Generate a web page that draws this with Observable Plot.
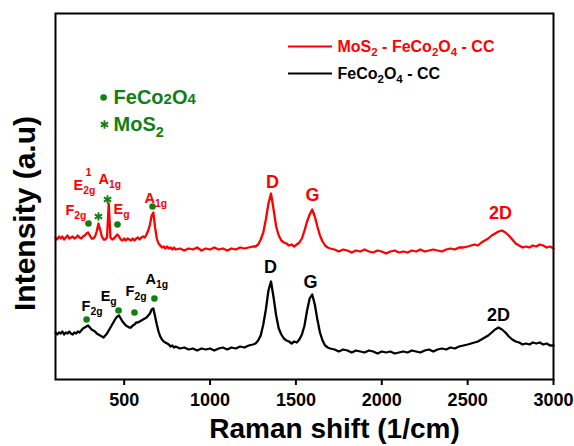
<!DOCTYPE html>
<html><head><meta charset="utf-8">
<script src="https://cdn.jsdelivr.net/npm/d3@7"></script>
<script src="https://cdn.jsdelivr.net/npm/@observablehq/plot@0.6"></script>
<style>body{margin:0;background:#fff}</style>
</head><body><div id="chart"></div>
<script>
// Raman shift (1/cm)
const shift = [
100,110,120,130,140,150,160,170,180,190,
200,210,220,230,240,250,260,270,280,290,
300,310,320,330,340,350,360,370,380,390,
400,410,420,430,440,450,460,470,480,490,
500,510,520,530,540,550,560,570,580,590,
600,610,620,630,640,650,660,670,680,690,
700,710,720,730,740,750,760,770,780,790,
800,
825,850,875,900,925,950,975,1000,1025,1050,1075,1100,1125,1150,1175,1200,1225,1250,
1265,1280,1295,1310,1325,1340,1355,1370,1385,1400,1415,1430,1445,1460,1475,1490,1505,1520,1535,1550,1565,1580,1595,1610,1625,1640,1655,1670,1685,1700,
1725,1750,1775,1800,1825,1850,1875,1900,1925,1950,1975,2000,2025,2050,2075,2100,2125,2150,2175,2200,2225,2250,2275,2300,2325,2350,2375,2400,2425,2450,2475,2500,
2520,2540,2560,2580,2600,2620,2640,2660,2680,2700,2720,2740,2760,2780,2800,2820,2840,2860,
2880,2900,2920,2940,2960,2980,3000];

// MoS2 - FeCo2O4 - CC (offset, a.u.)
const mosFeco = [
142,140,143,141,143,140,142,144,141,142,
143,141,142,144,142,141,143,144,146,147,
144,141,141,143,148,156,150,143,140,140,
142,176,142,140,141,143,145,143,140,139,
141,139,141,140,139,141,139,141,142,140,
142,143,142,145,149,155,164,167,152,141,
136,134,132,133,131,133,131,132,130,132,
130,
131,129,131,130,132,129,131,130,132,130,131,129,131,130,132,131,132,133,
133,135,140,147,160,176,186,170,153,144,139,137,136,134,135,133,135,137,141,149,158,165,170,163,153,144,138,134,132,131,
130,128,130,129,127,129,128,130,128,127,129,128,126,128,129,127,128,127,129,128,130,128,129,130,129,128,130,131,130,132,132,133,
134,135,134,137,139,141,144,146,148,149,147,144,140,136,134,132,133,132,
134,133,135,134,132,133,131];

// FeCo2O4 - CC (a.u.)
const feco = [
47,45,47,46,48,45,47,46,48,46,
45,47,46,48,47,49,51,52,53,54,
52,50,49,48,46,45,44,43,42,44,
46,49,52,55,58,61,63,64,61,58,
56,54,53,52,52,54,55,57,57,58,
59,60,61,62,64,66,70,71,63,55,
48,43,40,38,37,36,35,33,34,32,
33,
31,32,30,31,29,31,30,31,29,31,32,30,32,31,33,32,34,35,
36,39,44,55,70,89,98,82,64,51,45,41,39,38,36,38,37,40,45,54,69,81,85,75,60,47,39,34,32,31,
30,28,30,29,27,29,28,27,29,28,26,28,27,28,26,27,28,27,29,28,27,29,30,28,30,31,30,32,31,33,34,35,
36,37,38,40,42,44,47,50,52,50,47,43,40,38,37,35,36,35,
37,36,37,35,36,34,34];

const xTicks = [500,1000,1500,2000,2500,3000];

// Mode labels (baseline-left), MoS2-FeCo2O4 curve
const redModeText = ["F_{2g}", "E_{2g}", "A_{1g}", "E_{g}", "A_{1g}"];
const redModeX = [158, 205, 350, 438, 618];
const redModeY = [165, 190, 196, 166, 177];
const redSupText = ["1"];
const redSupX = [275];
const redSupY = [204];
// Mode labels, FeCo2O4 curve
const blackModeText = ["F_{2g}", "E_{g}", "F_{2g}", "A_{1g}"];
const blackModeX = [252, 363, 508, 624];
const blackModeY = [69, 79, 84, 96];
// Peak labels (centered)
const peakText = ["D", "G", "2D"];
const redPeakX = [1364, 1597, 2691];
const redPeakY = [192, 179, 161];
const blackPeakX = [1352, 1585, 2680];
const blackPeakY = [107, 92, 59];
// Phase markers
const redDotX = [292, 461, 665];
const redDotY = [156, 155, 173];
const redStarX = [350, 403];
const redStarY = [163, 180];
const blackDotX = [281, 467, 560, 676];
const blackDotY = [60, 69, 67, 81];
// Series legend
const legendLabels = ["MoS_{2} - FeCo_{2}O_{4} - CC", "FeCo_{2}O_{4} - CC"];
const legendColors = ["#ff0000", "#000000"];
const legendY = [333, 306];
const legendSwatchX = [1457, 1713];
const legendTextX = 1742;
// Phase legend
const phaseLabels = ["FeCo~{2}O~{4}", "MoS_{2}"];
const phaseSymbols = ["dot", "asterisk"];
const phaseY = [282, 255];
const phaseMarkX = [380, 385];
const phaseTextX = 438;

const GREEN = "#127f12";
const FONT = "'Liberation Sans', Arial, sans-serif";

const table = shift.map((s, i) => ({shift: s, a: mosFeco[i], b: feco[i]}));
const zip = (xs, ys, ts) => xs.map((x, i) => ({x, y: ys[i], t: ts ? ts[i] : null}));

const marks = [
  Plot.line(table, {x: "shift", y: "b", stroke: "#000", strokeWidth: 2.3}),
  Plot.line(table, {x: "shift", y: "a", stroke: "#ff0000", strokeWidth: 2.3}),
  Plot.frame({stroke: "#000", strokeWidth: 2}),
  Plot.axisX({ticks: xTicks, tickFormat: d => String(d), tickSize: 6, tickPadding: 8, strokeWidth: 2, label: null}),
  Plot.text(["Raman shift (1/cm)"], {frameAnchor: "bottom", textAnchor: "middle", lineAnchor: "bottom", dx: 30, dy: 58, fontSize: 28, fontWeight: "bold", fill: "#000"}),
  Plot.text(["Intensity (a.u)"], {frameAnchor: "left", textAnchor: "middle", rotate: -90, dx: -30, dy: 17, fontSize: 30, fontWeight: "bold", fill: "#000"}),
  Plot.text(zip(redModeX, redModeY, redModeText), {x: "x", y: "y", text: "t", fill: "#ff0000", fontSize: 14.5, fontWeight: "bold", textAnchor: "start", lineAnchor: "bottom"}),
  Plot.text(zip(redSupX, redSupY, redSupText), {x: "x", y: "y", text: "t", fill: "#ff0000", fontSize: 11, fontWeight: "bold", textAnchor: "start", lineAnchor: "bottom"}),
  Plot.text(zip(blackModeX, blackModeY, blackModeText), {x: "x", y: "y", text: "t", fill: "#000", fontSize: 14.5, fontWeight: "bold", textAnchor: "start", lineAnchor: "bottom"}),
  Plot.text(zip(redPeakX, redPeakY, peakText), {x: "x", y: "y", text: "t", fill: "#ff0000", fontSize: 18, fontWeight: "bold", lineAnchor: "bottom"}),
  Plot.text(zip(blackPeakX, blackPeakY, peakText), {x: "x", y: "y", text: "t", fill: "#000", fontSize: 18, fontWeight: "bold", lineAnchor: "bottom"}),
  Plot.dot(zip(redDotX, redDotY), {x: "x", y: "y", r: 3.3, fill: GREEN}),
  Plot.dot(zip(blackDotX, blackDotY), {x: "x", y: "y", r: 3.3, fill: GREEN}),
  Plot.dot(zip(redStarX, redStarY), {x: "x", y: "y", r: 4, symbol: "asterisk", stroke: GREEN, strokeWidth: 1.8}),
];

legendLabels.forEach((lab, i) => {
  marks.push(Plot.ruleY([{y: legendY[i], x1: legendSwatchX[0], x2: legendSwatchX[1]}], {y: "y", x1: "x1", x2: "x2", stroke: legendColors[i], strokeWidth: 2}));
  marks.push(Plot.text([{x: legendTextX, y: legendY[i], t: lab}], {x: "x", y: "y", text: "t", fill: legendColors[i], fontSize: 16, fontWeight: "bold", textAnchor: "start"}));
});
phaseLabels.forEach((lab, i) => {
  const sym = phaseSymbols[i];
  marks.push(Plot.dot([{x: phaseMarkX[i], y: phaseY[i]}], sym === "dot"
    ? {x: "x", y: "y", r: 3.3, fill: GREEN}
    : {x: "x", y: "y", r: 4, symbol: "asterisk", stroke: GREEN, strokeWidth: 1.8}));
  marks.push(Plot.text([{x: phaseTextX, y: phaseY[i], t: lab}], {x: "x", y: "y", text: "t", fill: GREEN, fontSize: 20, fontWeight: "bold", textAnchor: "start"}));
});

const plot = Plot.plot({
  width: 574, height: 446,
  marginLeft: 55, marginRight: 21, marginTop: 13, marginBottom: 67,
  style: {fontFamily: FONT, fontSize: "18px", fontWeight: "bold", background: "#fff", color: "#000", overflow: "visible"},
  x: {domain: [100, 3000]},
  y: {domain: [0, 366], axis: null},
  marks
});
document.getElementById("chart").append(plot);

// subscript/superscript markup: _{..} sub, ^{..} sup, ~{..} small on baseline
function richify(root) {
  root.querySelectorAll("text").forEach(el => {
    const t = el.textContent;
    if (!/[_^~]\{/.test(t)) return;
    const fs = parseFloat(getComputedStyle(el).fontSize);
    el.textContent = "";
    const re = /([_^~])\{([^}]*)\}|([^_^~]+)/g;
    let m, cur = 0;
    while ((m = re.exec(t))) {
      const ts = document.createElementNS("http://www.w3.org/2000/svg", "tspan");
      let target = 0;
      if (m[1]) {
        ts.textContent = m[2];
        ts.setAttribute("font-size", (fs * (m[1] === "~" ? 0.75 : 0.72)).toFixed(1));
        target = m[1] === "_" ? fs * 0.3 : m[1] === "^" ? -fs * 0.4 : 0;
      } else {
        ts.textContent = m[3];
      }
      const d = target - cur;
      if (d) ts.setAttribute("dy", d.toFixed(1));
      cur = target;
      el.appendChild(ts);
    }
  });
}
richify(plot);
</script>
</body></html>
